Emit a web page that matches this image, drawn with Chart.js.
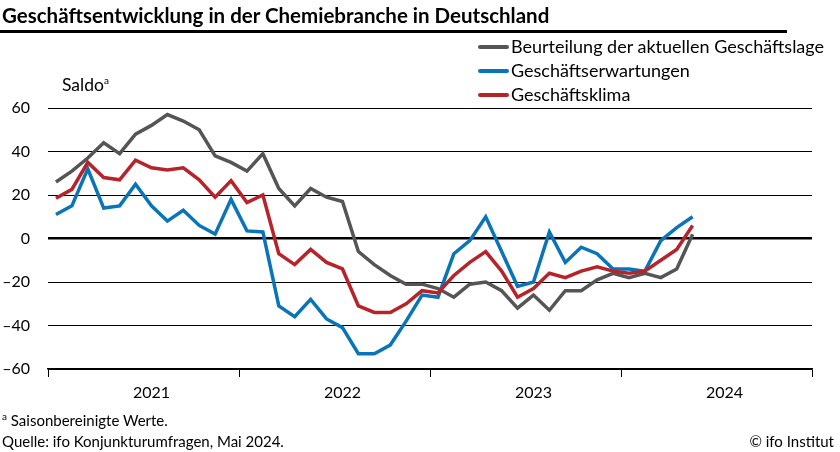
<!DOCTYPE html>
<html>
<head>
<meta charset="utf-8">
<script src="https://cdn.jsdelivr.net/npm/chart.js@4/dist/chart.umd.min.js"></script>
<style>
  body { margin: 0; background: #fff; font-family: Lato, "Noto Sans", sans-serif; color: #000; }
  #wrap { position: relative; width: 840px; height: 452px; overflow: hidden; }
  #chart { position: absolute; left: 0; top: 0; }
  .txt { position: absolute; white-space: nowrap; font-size: 16px; line-height: 18px; }
  #title { left: 2px; top: 3px; font-size: 20.5px; font-weight: bold; line-height: 24px; }
  #rule { position: absolute; left: 0; top: 30px; width: 787px; height: 2.5px; background: #000; }
  #legend { position: absolute; left: 478px; top: 35px; }
  #legend div { height: 24px; line-height: 22px; font-size: 18px; white-space: nowrap; }
  #legend span.sw { display: inline-block; width: 31px; height: 4px; border-radius: 2px; vertical-align: middle; margin-right: 2px; position: relative; top: -1px; }
  sup { font-size: 10px; line-height: 0; }
</style>
</head>
<body>
<div id="wrap">
  <canvas id="chart" width="840" height="452"></canvas>
  <div id="title" class="txt">Geschäftsentwicklung in der Chemiebranche in Deutschland</div>
  <div id="rule"></div>
  <div id="legend"></div>
  <div class="txt" style="left:62px; top:75px; font-size:17.5px; line-height:20px;">Saldo<sup>a</sup></div>
  <div class="txt" style="left:2px; top:411px; font-size:15px;"><sup>a</sup> Saisonbereinigte Werte.</div>
  <div class="txt" style="left:2px; top:432px; font-size:15px;">Quelle: ifo Konjunkturumfragen, Mai 2024.</div>
  <div class="txt" style="right:6px; top:432px; font-size:15px;">© ifo Institut</div>
</div>
<script>
const years = ['2021', '2022', '2023', '2024']
const seriesNames = ['Beurteilung der aktuellen Geschäftslage', 'Geschäftserwartungen', 'Geschäftsklima']

// monthly values, Jan 2021 - May 2024
const lage = [26, 31, 37, 44, 39, 48, 52, 57, 54, 50, 38, 35, 31, 39, 23, 15, 23, 19, 17, -6,
  -12, -17, -21, -21, -23, -27, -21, -20, -24, -32, -26, -33, -24, -24, -19, -16, -18, -16, -18, -14, 2]
const erwartungen = [11, 15, 32, 14, 15, 25, 15, 8, 13, 6, 2, 18, 3.5, 3, -31, -36, -28, -37, -41, -53,
  -53, -49, -38, -26, -27, -7, -1, 10, -6, -22, -20, 3, -11, -4, -7, -14, -14, -15, -1, 5, 10]
const klima = [18.5, 22.6, 35, 28, 27, 36, 32.5, 31.5, 32.5, 27, 19, 26.6, 16.5, 20, -7, -12, -5, -11, -14, -31,
  -34, -34, -30, -24, -25, -17, -11, -6, -15, -27, -23, -16, -18, -15, -13, -15, -16, -15, -10, -5, 6]

const colors = ['#555555', '#0a74b9', '#b8232a']

const toPoints = arr => arr.map((v, i) => ({ x: i + 0.5, y: v }))

const legend = document.getElementById('legend')
seriesNames.forEach((name, i) => {
  const row = document.createElement('div')
  row.innerHTML = '<span class="sw" style="background:' + colors[i] + '"></span>' + name
  legend.appendChild(row)
})

new Chart(document.getElementById('chart'), {
  type: 'line',
  data: {
    datasets: [lage, erwartungen, klima].map((arr, i) => ({
      label: seriesNames[i],
      data: toPoints(arr),
      borderColor: colors[i],
      borderWidth: 3.5,
      pointRadius: 0,
      tension: 0,
      order: 3 - i
    }))
  },
  options: {
    responsive: false,
    animation: false,
    layout: { padding: { top: 108, right: 28, bottom: 43, left: 0 } },
    plugins: { legend: { display: false }, tooltip: { enabled: false } },
    scales: {
      x: {
        type: 'linear',
        min: 0,
        max: 48,
        afterBuildTicks: scale => {
          scale.ticks = [0, 6.5, 12, 18.5, 24, 30.5, 36, 42.5, 48].map(v => ({ value: v }))
        },
        afterFit: scale => { scale.height = 40 },
        ticks: {
          autoSkip: false,
          maxRotation: 0,
          padding: 6,
          color: '#000',
          font: { family: 'Lato', size: 16 },
          callback: v => (v % 12 === 0 ? '' : years[Math.floor(v / 12)])
        },
        grid: {
          drawOnChartArea: false,
          tickLength: 8,
          tickColor: ctx => (ctx.tick && ctx.tick.value % 12 === 0 ? '#000' : 'rgba(0,0,0,0)')
        },
        border: { color: '#000', width: 1.5 }
      },
      y: {
        min: -60,
        max: 60,
        afterFit: scale => { scale.width = 48 },
        ticks: {
          stepSize: 20,
          padding: 18,
          color: '#000',
          font: { family: 'Lato', size: 16 },
          callback: v => String(v).replace('-', '–')
        },
        grid: {
          color: '#000',
          lineWidth: ctx => (ctx.tick && ctx.tick.value === 0 ? 2.5 : 1),
          drawTicks: false
        },
        border: { display: false }
      }
    }
  }
})
</script>
</body>
</html>
